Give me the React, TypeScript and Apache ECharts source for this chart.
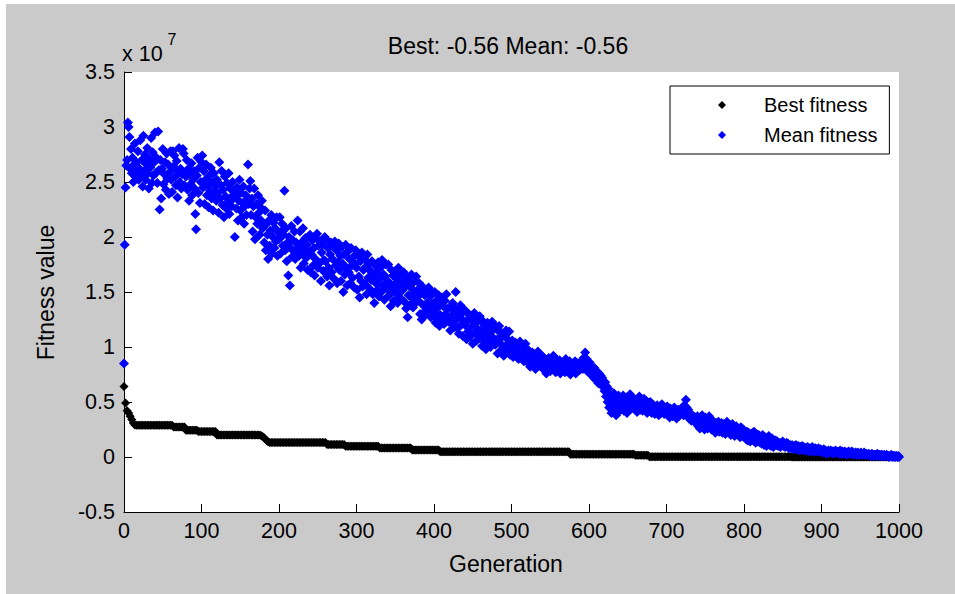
import React, { useEffect, useRef } from "react";
import * as echarts from "echarts";

const TITLE = "Best: -0.56 Mean: -0.56";
const X_LABEL = "Generation";
const Y_LABEL = "Fitness value";
const Y_SCALE_TEXT = "x 10";
const Y_SCALE_EXP = "7";
const LEGEND_NAMES = ["Best fitness", "Mean fitness"];
const MEAN_STEP = 1; // one mean value per generation, 0..1000
const BEST_STEP = 2; // one best value every 2 generations, 0..1000

// values in units of 1e7
const meanFitness = [
  0.85, 1.93, 2.45, 2.65, 2.70, 3.04, 3.00, 2.91, 2.62, 2.80, 2.58, 2.72, 2.50, 2.66, 2.85, 2.55, 2.68, 2.60, 2.78, 2.52,
  2.62, 2.88, 2.55, 2.70, 2.46, 2.92, 2.60, 2.75, 2.52, 2.66, 2.81, 2.58, 2.44, 2.71, 2.63, 2.90, 2.49, 2.77, 2.56, 2.68,
  2.95, 2.58, 2.72, 2.49, 2.96, 2.61, 2.25, 2.70, 2.35, 2.62, 2.80, 2.48, 2.57, 2.68, 2.43, 2.76, 2.53, 2.66, 2.39, 2.59,
  2.78, 2.52, 2.41, 2.78, 2.64, 2.74, 2.55, 2.47, 2.69, 2.36, 2.60, 2.81, 2.50, 2.62, 2.44, 2.57, 2.80, 2.76, 2.47, 2.58,
  2.55, 2.70, 2.43, 2.62, 2.33, 2.58, 2.48, 2.67, 2.38, 2.52, 2.60, 2.44, 2.21, 2.07, 2.56, 2.72, 2.40, 2.63, 2.31, 2.50,
  2.68, 2.74, 2.45, 2.60, 2.30, 2.52, 2.66, 2.38, 2.48, 2.27, 2.56, 2.42, 2.63, 2.35, 2.50, 2.24, 2.58, 2.40, 2.46, 2.33,
  2.52, 2.40, 2.22, 2.68, 2.35, 2.47, 2.60, 2.29, 2.43, 2.18, 2.55, 2.37, 2.26, 2.49, 2.32, 2.58, 2.21, 2.44, 2.36, 2.28,
  2.50, 2.35, 2.41, 2.00, 2.37, 2.26, 2.45, 2.15, 2.33, 2.52, 2.24, 2.40, 2.18, 2.31, 2.46, 2.12, 2.28, 2.38, 2.20, 2.34,
  2.66, 2.30, 2.44, 2.51, 2.20, 2.35, 2.05, 2.28, 2.44, 1.98, 2.18, 2.30, 2.12, 2.38, 2.22, 2.02, 2.27, 2.15, 2.33, 2.08,
  2.10, 1.95, 2.24, 1.88, 2.12, 2.02, 1.80, 2.15, 1.92, 2.06, 2.20, 1.85, 2.00, 2.13, 1.90, 2.08, 1.96, 2.18, 1.83, 2.04,
  1.98, 2.18, 1.85, 2.05, 2.12, 1.92, 2.02, 2.42, 1.88, 2.08, 1.78, 1.95, 1.65, 2.00, 1.56, 1.90, 2.10, 1.82, 1.97, 1.87,
  2.05, 1.80, 1.95, 1.88, 2.15, 1.92, 1.83, 2.05, 1.72, 1.95, 1.86, 2.08, 1.76, 1.90, 1.99, 1.81, 1.93, 1.70, 1.87, 2.01,
  2.02, 1.68, 1.84, 1.97, 1.74, 1.90, 1.65, 1.80, 1.99, 2.03, 1.72, 1.92, 1.76, 1.96, 1.60, 1.86, 1.93, 1.69, 1.79, 2.00,
  1.78, 1.98, 1.64, 1.90, 1.72, 1.56, 1.84, 1.95, 1.68, 1.80, 1.91, 1.62, 1.96, 1.74, 1.88, 1.58, 1.77, 1.94, 1.70, 1.83,
  1.60, 1.91, 1.76, 1.50, 1.84, 1.66, 1.93, 1.72, 1.56, 1.87, 1.68, 1.80, 1.58, 1.90, 1.74, 1.63, 1.82, 1.54, 1.76, 1.88,
  1.72, 1.52, 1.83, 1.64, 1.45, 1.78, 1.60, 1.86, 1.55, 1.70, 1.80, 1.57, 1.73, 1.48, 1.84, 1.63, 1.76, 1.53, 1.69, 1.61,
  1.78, 1.48, 1.65, 1.40, 1.74, 1.58, 1.68, 1.52, 1.77, 1.46, 1.62, 1.72, 1.50, 1.79, 1.56, 1.66, 1.43, 1.64, 1.75, 1.53,
  1.60, 1.75, 1.47, 1.58, 1.37, 1.70, 1.52, 1.65, 1.42, 1.57, 1.69, 1.49, 1.62, 1.40, 1.72, 1.54, 1.45, 1.66, 1.51, 1.59,
  1.52, 1.68, 1.41, 1.56, 1.35, 1.63, 1.27, 1.47, 1.60, 1.38, 1.54, 1.66, 1.44, 1.36, 1.59, 1.49, 1.40, 1.64, 1.45, 1.52,
  1.42, 1.58, 1.30, 1.49, 1.25, 1.55, 1.38, 1.28, 1.47, 1.33, 1.52, 1.40, 1.31, 1.54, 1.36, 1.46, 1.27, 1.50, 1.39, 1.33,
  1.31, 1.50, 1.22, 1.42, 1.26, 1.36, 1.47, 1.19, 1.29, 1.40, 1.45, 1.24, 1.37, 1.21, 1.42, 1.30, 1.48, 1.25, 1.35, 1.23,
  1.27, 1.15, 1.36, 1.22, 1.40, 1.30, 1.18, 1.35, 1.50, 1.25, 1.17, 1.33, 1.12, 1.29, 1.38, 1.20, 1.31, 1.10, 1.24, 1.34,
  1.20, 1.32, 1.07, 1.24, 1.14, 1.30, 1.09, 1.27, 1.11, 1.19, 1.03, 1.23, 1.31, 1.13, 1.22, 1.06, 1.26, 1.16, 1.08, 1.28,
  1.15, 1.25, 1.01, 1.12, 1.21, 1.05, 1.15, 0.98, 1.09, 1.22, 1.04, 1.18, 1.10, 1.00, 1.14, 1.23, 1.03, 1.08, 1.20, 1.02,
  1.05, 1.16, 0.94, 1.08, 1.19, 0.96, 1.03, 1.13, 1.09, 0.99, 0.92, 1.11, 1.01, 1.15, 0.95, 1.07, 1.00, 1.14, 0.93, 1.04,
  0.97, 1.06, 0.91, 1.01, 0.93, 1.04, 0.99, 0.92, 1.02, 0.89, 0.96, 1.05, 0.94, 0.90, 1.00, 0.95, 0.87, 0.98, 1.03, 0.92,
  0.94, 0.86, 0.97, 0.88, 0.82, 0.92, 0.86, 0.95, 0.84, 0.89, 0.93, 0.80, 0.91, 0.87, 0.96, 0.85, 0.90, 0.83, 0.88, 0.92,
  0.86, 0.91, 0.79, 0.88, 0.83, 0.76, 0.87, 0.81, 0.90, 0.84, 0.78, 0.89, 0.85, 0.82, 0.92, 0.80, 0.86, 0.77, 0.84, 0.88,
  0.84, 0.79, 0.88, 0.76, 0.85, 0.80, 0.83, 0.86, 0.81, 0.77, 0.89, 0.82, 0.78, 0.85, 0.80, 0.87, 0.75, 0.83, 0.79, 0.84,
  0.83, 0.78, 0.87, 0.76, 0.81, 0.85, 0.80, 0.84, 0.79, 0.86, 0.82, 0.88, 0.80, 0.90, 0.86, 0.95, 0.84, 0.89, 0.79, 0.77,
  0.80, 0.86, 0.76, 0.82, 0.74, 0.79, 0.72, 0.81, 0.75, 0.70, 0.78, 0.73, 0.67, 0.76, 0.70, 0.74, 0.66, 0.72, 0.68, 0.63,
  0.60, 0.68, 0.55, 0.64, 0.50, 0.62, 0.45, 0.57, 0.52, 0.40, 0.55, 0.48, 0.58, 0.44, 0.53, 0.38, 0.50, 0.46, 0.56, 0.42,
  0.50, 0.43, 0.53, 0.46, 0.56, 0.42, 0.51, 0.47, 0.54, 0.40, 0.49, 0.52, 0.45, 0.57, 0.48, 0.44, 0.51, 0.46, 0.53, 0.49,
  0.45, 0.52, 0.41, 0.49, 0.44, 0.55, 0.43, 0.47, 0.50, 0.42, 0.48, 0.53, 0.44, 0.46, 0.51, 0.40, 0.47, 0.49, 0.43, 0.50,
  0.44, 0.40, 0.48, 0.42, 0.46, 0.39, 0.45, 0.41, 0.47, 0.43, 0.38, 0.46, 0.44, 0.40, 0.48, 0.42, 0.45, 0.39, 0.43, 0.41,
  0.42, 0.46, 0.38, 0.41, 0.36, 0.44, 0.39, 0.43, 0.37, 0.40, 0.45, 0.38, 0.42, 0.35, 0.40, 0.43, 0.37, 0.41, 0.39, 0.44,
  0.40, 0.44, 0.38, 0.47, 0.42, 0.52, 0.45, 0.39, 0.43, 0.35, 0.40, 0.36, 0.33, 0.38, 0.34, 0.37, 0.32, 0.36, 0.33, 0.35,
  0.37, 0.28, 0.34, 0.26, 0.35, 0.30, 0.38, 0.27, 0.33, 0.25, 0.36, 0.29, 0.34, 0.26, 0.31, 0.37, 0.28, 0.33, 0.25, 0.30,
  0.33, 0.25, 0.30, 0.22, 0.31, 0.27, 0.24, 0.32, 0.23, 0.29, 0.26, 0.31, 0.22, 0.30, 0.25, 0.28, 0.21, 0.27, 0.32, 0.24,
  0.29, 0.22, 0.27, 0.20, 0.26, 0.30, 0.21, 0.25, 0.19, 0.27, 0.28, 0.21, 0.26, 0.20, 0.24, 0.18, 0.27, 0.22, 0.19, 0.25,
  0.24, 0.18, 0.22, 0.16, 0.23, 0.15, 0.22, 0.19, 0.14, 0.21, 0.17, 0.22, 0.15, 0.23, 0.18, 0.13, 0.21, 0.17, 0.14, 0.20,
  0.19, 0.13, 0.17, 0.12, 0.20, 0.15, 0.11, 0.18, 0.14, 0.10, 0.17, 0.13, 0.19, 0.11, 0.15, 0.10, 0.17, 0.13, 0.09, 0.15,
  0.13, 0.15, 0.11, 0.14, 0.10, 0.13, 0.12, 0.09, 0.13, 0.11, 0.14, 0.10, 0.12, 0.09, 0.11, 0.13, 0.10, 0.12, 0.08, 0.11,
  0.10, 0.08, 0.11, 0.09, 0.07, 0.10, 0.08, 0.11, 0.07, 0.09, 0.10, 0.08, 0.06, 0.09, 0.08, 0.10, 0.07, 0.09, 0.06, 0.08,
  0.08, 0.06, 0.09, 0.07, 0.05, 0.08, 0.06, 0.07, 0.09, 0.05, 0.07, 0.06, 0.08, 0.05, 0.07, 0.06, 0.08, 0.05, 0.06, 0.07,
  0.06, 0.04, 0.05, 0.07, 0.04, 0.06, 0.05, 0.03, 0.05, 0.06, 0.04, 0.05, 0.06, 0.04, 0.05, 0.03, 0.05, 0.04, 0.06, 0.04,
  0.04, 0.05, 0.03, 0.04, 0.06, 0.03, 0.04, 0.05, 0.03, 0.04, 0.05, 0.03, 0.04, 0.02, 0.04, 0.05, 0.03, 0.04, 0.03, 0.05,
  0.03, 0.04, 0.02, 0.03, 0.04, 0.03, 0.02, 0.04, 0.03, 0.02, 0.03, 0.04, 0.03, 0.02, 0.03, 0.04, 0.02, 0.03, 0.03, 0.02,
  0.02, 0.03, 0.02, 0.01, 0.02, 0.03, 0.02, 0.01, 0.02, 0.02, 0.01, 0.02, 0.03, 0.02, 0.01, 0.02, 0.01, 0.02, 0.02, 0.01,
  0.01, 0.02, 0.01, 0.01, 0.02, 0.01, 0.01, 0.00, 0.01, 0.01, 0.02, 0.01, 0.00, 0.01, 0.01, 0.00, 0.01, 0.01, 0.00, 0.01,
  0.00,
];

const bestFitness = [
  0.64, 0.49, 0.42, 0.40, 0.37, 0.34, 0.31, 0.29,
  0.288, 0.288, 0.288, 0.288, 0.288, 0.288, 0.288, 0.288, 0.288, 0.288, 0.288, 0.288,
  0.288, 0.288, 0.288, 0.288, 0.288, 0.288, 0.288, 0.288, 0.288, 0.288, 0.288, 0.288,
  0.273, 0.273, 0.273, 0.273, 0.273, 0.273, 0.273, 0.273,
  0.243, 0.243, 0.243, 0.243, 0.243, 0.243, 0.243, 0.243,
  0.231, 0.231, 0.231, 0.231, 0.231, 0.231, 0.231, 0.231, 0.231, 0.231, 0.231, 0.231,
  0.2, 0.2, 0.2, 0.2, 0.2, 0.2, 0.2, 0.2, 0.2, 0.2, 0.2, 0.2, 0.2, 0.2,
  0.2, 0.2, 0.2, 0.2, 0.2, 0.2, 0.2, 0.2, 0.2, 0.2, 0.2, 0.2, 0.2, 0.2,
  0.198, 0.19, 0.18, 0.165, 0.15, 0.138,
  0.131, 0.131, 0.131, 0.131, 0.131, 0.131, 0.131, 0.131, 0.131, 0.131, 0.131, 0.131,
  0.131, 0.131, 0.131, 0.131, 0.131, 0.131, 0.131, 0.131, 0.131, 0.131, 0.131, 0.131,
  0.131, 0.131, 0.131, 0.131, 0.131, 0.131, 0.131, 0.131, 0.131, 0.131, 0.131, 0.131, 0.131,
  0.113, 0.113, 0.113, 0.113, 0.113, 0.113, 0.113, 0.113, 0.113, 0.113, 0.113, 0.113,
  0.097, 0.097, 0.097, 0.097, 0.097, 0.097, 0.097, 0.097, 0.097, 0.097, 0.097,
  0.097, 0.097, 0.097, 0.097, 0.097, 0.097, 0.097, 0.097, 0.097, 0.097, 0.097,
  0.082, 0.082, 0.082, 0.082, 0.082, 0.082, 0.082, 0.082, 0.082, 0.082, 0.082,
  0.082, 0.082, 0.082, 0.082, 0.082, 0.082, 0.082, 0.082, 0.082, 0.082,
  0.064, 0.064, 0.064, 0.064, 0.064, 0.064, 0.064, 0.064, 0.064,
  0.064, 0.064, 0.064, 0.064, 0.064, 0.064, 0.064, 0.064, 0.064,
  0.047, 0.047, 0.047, 0.047, 0.047, 0.047, 0.047, 0.047, 0.047, 0.047, 0.047, 0.047,
  0.047, 0.047, 0.047, 0.047, 0.047, 0.047, 0.047, 0.047, 0.047, 0.047, 0.047, 0.047,
  0.047, 0.047, 0.047, 0.047, 0.047, 0.047, 0.047, 0.047, 0.047, 0.047, 0.047, 0.047,
  0.047, 0.047, 0.047, 0.047, 0.047, 0.047, 0.047, 0.047, 0.047, 0.047, 0.047, 0.047,
  0.047, 0.047, 0.047, 0.047, 0.047, 0.047, 0.047, 0.047, 0.047, 0.047, 0.047, 0.047,
  0.047, 0.047, 0.047, 0.047, 0.047, 0.047, 0.047, 0.047, 0.047, 0.047, 0.047, 0.047,
  0.047, 0.047, 0.047, 0.047, 0.047, 0.047, 0.047, 0.047, 0.047, 0.047, 0.047, 0.047,
  0.026, 0.026, 0.026, 0.026, 0.026, 0.026, 0.026, 0.026, 0.026, 0.026, 0.026, 0.026, 0.026, 0.026,
  0.026, 0.026, 0.026, 0.026, 0.026, 0.026, 0.026, 0.026, 0.026, 0.026, 0.026, 0.026, 0.026, 0.026,
  0.026, 0.026, 0.026, 0.026, 0.026, 0.026, 0.026, 0.026, 0.026, 0.026, 0.026, 0.026, 0.026, 0.026,
  0.015, 0.015, 0.015, 0.015, 0.015, 0.015, 0.015, 0.015, 0.015,
  0.003, 0.003, 0.003, 0.003, 0.003, 0.003, 0.003, 0.003, 0.003, 0.003, 0.003, 0.003,
  0.003, 0.003, 0.003, 0.003, 0.003, 0.003, 0.003, 0.003, 0.003, 0.003, 0.003, 0.003,
  0.003, 0.003, 0.003, 0.003, 0.003, 0.003, 0.003, 0.003, 0.003, 0.003, 0.003, 0.003,
  0.003, 0.003, 0.003, 0.003, 0.003, 0.003, 0.003, 0.003, 0.003, 0.003, 0.003, 0.003,
  0.003, 0.003, 0.003, 0.003, 0.003, 0.003, 0.003, 0.003, 0.003, 0.003, 0.003, 0.003,
  0.003, 0.003, 0.003, 0.003, 0.003, 0.003, 0.003, 0.003, 0.003, 0.003, 0.003, 0.003,
  0.003, 0.003, 0.003, 0.003, 0.003, 0.003, 0.003, 0.003, 0.003, 0.003, 0.003, 0.003,
  0.003, 0.003, 0.003, 0.003, 0.003, 0.003, 0.003, 0.003,
  0.001, 0.001, 0.001, 0.001, 0.001, 0.001, 0.001, 0.001, 0.001, 0.001, 0.001, 0.001, 0.001, 0.001,
  0.001, 0.001, 0.001, 0.001, 0.001, 0.001, 0.001, 0.001, 0.001, 0.001, 0.001, 0.001, 0.001, 0.001,
  0.001, 0.001, 0.001, 0.001, 0.001, 0.001, 0.001, 0.001, 0.001, 0.001, 0.001, 0.001, 0.001, 0.001,
  0.001, 0.001, 0.001, 0.001, 0.001, 0.001, 0.001, 0.001, 0.001, 0.001, 0.001, 0.001, 0.001, 0.001,
  0.001, 0.001, 0.001, 0.001, 0.001, 0.001, 0.001, 0.001, 0.001, 0.001, 0.001, 0.001, 0.001, 0.001,
];

const FONT = '"Liberation Sans", Arial, Helvetica, sans-serif';

export default function App() {
  const ref = useRef<HTMLDivElement>(null);

  useEffect(() => {
    if (!ref.current) return;
    const chart = echarts.init(ref.current, undefined, { renderer: "svg" });
    const bestData = bestFitness.map((v, i) => [i * BEST_STEP, v]);
    const meanData = meanFitness.map((v, i) => [i * MEAN_STEP, v]);

    const txt = (
      text: string,
      x: number,
      y: number,
      size: number,
      align: string,
      rotation = 0
    ) => ({
      type: "text",
      x,
      y,
      rotation,
      silent: true,
      style: {
        text,
        fill: "#000",
        fontSize: size,
        fontFamily: FONT,
        align,
        verticalAlign: "middle",
        textAlign: align,
        textVerticalAlign: "middle",
      },
    });

    chart.setOption({
      animation: false,
      backgroundColor: "transparent",
      textStyle: { fontFamily: FONT },
      grid: {
        left: 124,
        top: 72,
        right: 56,
        bottom: 82,
        show: true,
        backgroundColor: "#ffffff",
        borderWidth: 0,
      },
      xAxis: {
        type: "value",
        min: 0,
        max: 1000,
        interval: 100,
        axisLine: { show: true, onZero: false, lineStyle: { color: "#000", width: 1 } },
        axisTick: { show: true, inside: true, length: 8, lineStyle: { color: "#000" } },
        axisLabel: {
          color: "#000",
          fontSize: 21.5,
          margin: 8,
          fontFamily: FONT,
          formatter: (v: number) => String(v),
        },
        splitLine: { show: false },
      },
      yAxis: {
        type: "value",
        min: -0.5,
        max: 3.5,
        interval: 0.5,
        axisLine: { show: true, onZero: false, lineStyle: { color: "#000", width: 1 } },
        axisTick: { show: true, inside: true, length: 8, lineStyle: { color: "#000" } },
        axisLabel: {
          color: "#000",
          fontSize: 21.5,
          margin: 9,
          fontFamily: FONT,
          formatter: (v: number) => String(v),
        },
        splitLine: { show: false },
      },
      legend: {
        orient: "vertical",
        left: 670,
        top: 86,
        padding: [9, 12, 9, 48],
        itemWidth: 8,
        itemHeight: 8,
        itemGap: 10,
        borderColor: "#000",
        borderWidth: 1,
        backgroundColor: "#ffffff",
        selectedMode: false,
        itemStyle: { opacity: 1 },
        textStyle: {
          color: "#000",
          fontSize: 20,
          lineHeight: 20,
          fontFamily: FONT,
          padding: [0, 0, 0, 33],
        },
        data: LEGEND_NAMES,
      },
      graphic: [
        txt(TITLE, 508, 45.5, 23, "center"),
        txt(X_LABEL, 506, 563.5, 23, "center"),
        txt(Y_LABEL, 45.5, 292.5, 23, "center", Math.PI / 2),
        txt(Y_SCALE_TEXT, 122, 54, 21.5, "left"),
        txt(Y_SCALE_EXP, 167.5, 39, 16, "left"),
      ],
      series: [
        {
          name: LEGEND_NAMES[0],
          type: "scatter",
          symbol: "diamond",
          symbolSize: 9,
          large: false,
          itemStyle: { color: "#000000", opacity: 1 },
          emphasis: { disabled: true },
          data: bestData,
          z: 2,
        },
        {
          name: LEGEND_NAMES[1],
          type: "scatter",
          symbol: "diamond",
          symbolSize: 10,
          large: false,
          itemStyle: { color: "#0000ff", opacity: 1 },
          emphasis: { disabled: true },
          data: meanData,
          z: 3,
        },
      ],
    });

    return () => {
      chart.dispose();
    };
  }, []);

  return (
    <div
      style={{
        position: "fixed",
        left: 0,
        top: 0,
        width: 955,
        height: 594,
        background: "#ffffff",
        overflow: "hidden",
      }}
    >
      <div
        style={{
          position: "absolute",
          left: 6,
          top: 4,
          width: 949,
          height: 590,
          background: "#cacaca",
        }}
      />
      <div
        ref={ref}
        style={{ position: "absolute", left: 0, top: 0, width: 955, height: 594 }}
      />
    </div>
  );
}
